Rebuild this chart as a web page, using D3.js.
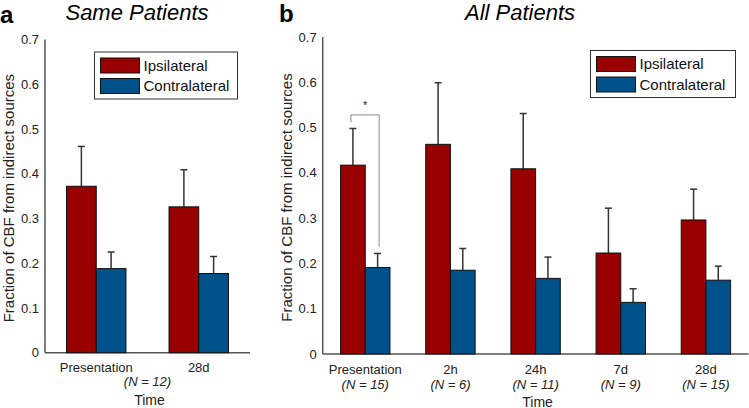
<!DOCTYPE html>
<html><head><meta charset="utf-8">
<script src="https://cdn.jsdelivr.net/npm/d3@7"></script>
<style>
body{margin:0;background:#fff;}
text{font-family:"Liberation Sans",Arial,Helvetica,sans-serif;}
</style>
</head><body>
<svg id="c" width="749" height="408"></svg>
<script>
// ---- data ----
const series = ["Ipsilateral", "Contralateral"];
const colors = ["#990000", "#00508A"];
const yTicks = [0, 0.1, 0.2, 0.3, 0.4, 0.5, 0.6, 0.7];

const catsA = ["Presentation", "28d"];
const ipsiA = [0.372, 0.326];
const ipsiErrA = [0.089, 0.083];
const contraA = [0.188, 0.177];
const contraErrA = [0.037, 0.038];
const nLabelA = "(N = 12)";

const catsB = ["Presentation", "2h", "24h", "7d", "28d"];
const nB = ["(N = 15)", "(N = 6)", "(N = 11)", "(N = 9)", "(N = 15)"];
const ipsiB = [0.417, 0.463, 0.409, 0.223, 0.296];
const ipsiErrB = [0.081, 0.136, 0.122, 0.099, 0.068];
const contraB = [0.191, 0.185, 0.167, 0.114, 0.163];
const contraErrB = [0.031, 0.048, 0.047, 0.030, 0.031];

const svg = d3.select("#c");
const axisColor = "#555";

function panel(o) {
  const g = svg.append("g");
  const y = d3.scaleLinear().domain([0, 0.7]).range([o.y0, o.y1]);
  const x = d3.scaleBand().domain(o.cats).range([o.x0, o.x1]).padding(0);
  const bw = x.bandwidth() * 0.29;
  const xs = d3.scaleBand().domain(series).range([-bw, bw]).padding(0);
  const vals = [o.ipsi, o.contra], errs = [o.ipsiErr, o.contraErr];

  // axes lines
  g.append("line").attr("x1", o.x0).attr("x2", o.x0).attr("y1", y(0)).attr("y2", y(0.7))
    .attr("stroke", axisColor).attr("stroke-width", 1.5);
  g.append("line").attr("x1", o.x0).attr("x2", o.x1).attr("y1", y(0)).attr("y2", y(0))
    .attr("stroke", axisColor).attr("stroke-width", 1.5);
  // y tick labels
  g.selectAll(".yt").data(yTicks).enter().append("text")
    .attr("x", o.x0 - 6).attr("y", d => y(d)).attr("dy", "0.35em")
    .attr("text-anchor", "end").attr("font-size", 13).attr("fill", "#222")
    .text(d => d === 0 ? "0" : d3.format(".1f")(d));

  // bars + error bars
  series.forEach((s, si) => {
    o.cats.forEach((c, ci) => {
      const cx = x(c) + x.bandwidth() / 2 + xs(s);
      const v = vals[si][ci], e = errs[si][ci];
      const mid = cx + xs.bandwidth() / 2;
      g.append("line").attr("x1", mid).attr("x2", mid).attr("y1", y(v)).attr("y2", y(v + e))
        .attr("stroke", "#333").attr("stroke-width", 1.5);
      g.append("line").attr("x1", mid - 3.5).attr("x2", mid + 3.5).attr("y1", y(v + e)).attr("y2", y(v + e))
        .attr("stroke", "#333").attr("stroke-width", 1.5);
      g.append("rect").attr("x", cx).attr("y", y(v)).attr("width", xs.bandwidth())
        .attr("height", y(0) - y(v)).attr("fill", colors[si])
        .attr("stroke", "#111").attr("stroke-width", 1);
    });
  });
  // x tick labels
  o.cats.forEach((c, ci) => {
    g.append("text").attr("x", x(c) + x.bandwidth() / 2).attr("y", o.labY)
      .attr("text-anchor", "middle").attr("font-size", 13).attr("fill", "#222").text(c);
    if (o.nLabels) {
      g.append("text").attr("x", x(c) + x.bandwidth() / 2).attr("y", o.nY)
        .attr("text-anchor", "middle").attr("font-size", 13).attr("font-style", "italic")
        .attr("fill", "#222").text(o.nLabels[ci]);
    }
  });
  if (o.nSingle) {
    g.append("text").attr("x", (o.x0 + o.x1) / 2).attr("y", o.nY)
      .attr("text-anchor", "middle").attr("font-size", 13).attr("font-style", "italic")
      .attr("fill", "#222").text(o.nSingle);
  }
  g.append("text").attr("x", (o.x0 + o.x1) / 2 + 2).attr("y", o.timeY)
    .attr("text-anchor", "middle").attr("font-size", 14).attr("fill", "#222").text("Time");
  // y label
  g.append("text").attr("transform", `translate(${o.ylabX},${(y(0) + y(0.7)) / 2 + 2}) rotate(-90)`)
    .attr("text-anchor", "middle").attr("font-size", 15).attr("fill", "#222")
    .text("Fraction of CBF from indirect sources");
  // titles
  g.append("text").attr("x", o.letterX).attr("y", o.letterY).attr("font-size", 24)
    .attr("font-weight", "bold").attr("fill", "#000").text(o.letter);
  g.append("text").attr("x", o.titleX).attr("y", 19.5).attr("text-anchor", "middle")
    .attr("font-size", 22).attr("font-style", "italic").attr("fill", "#000").text(o.title);
  // legend
  const L = g.append("g").attr("transform", `translate(${o.legX},${o.legY})`);
  L.append("rect").attr("x", 0).attr("y", 0).attr("width", o.legW).attr("height", 47)
    .attr("fill", "#fff").attr("stroke", "#333").attr("stroke-width", 1);
  series.forEach((s, si) => {
    L.append("rect").attr("x", 6).attr("y", 6 + si * 20.5).attr("width", 39).attr("height", 15)
      .attr("fill", colors[si]).attr("stroke", "#111").attr("stroke-width", 1);
    L.append("text").attr("x", 49).attr("y", 13.5 + si * 20.5).attr("dy", "0.35em")
      .attr("font-size", 15).attr("fill", "#111").text(s);
  });
  return {x, y, xs};
}

panel({cats: catsA, ipsi: ipsiA, ipsiErr: ipsiErrA, contra: contraA, contraErr: contraErrA,
  x0: 45, x1: 250, y0: 352.7, y1: 39.5, labY: 371.5, nY: 386, nSingle: nLabelA, timeY: 405,
  ylabX: 14, letter: "a", letterX: 0, letterY: 22.5, title: "Same Patients", titleX: 137,
  legX: 94.5, legY: 52, legW: 143});

const pb = panel({cats: catsB, ipsi: ipsiB, ipsiErr: ipsiErrB, contra: contraB, contraErr: contraErrB,
  x0: 322.7, x1: 748.5, y0: 354, y1: 37, labY: 374, nY: 388.5, nLabels: nB, timeY: 406.5,
  ylabX: 292, letter: "b", letterX: 279, letterY: 22, title: "All Patients", titleX: 520,
  legX: 590.5, legY: 50.5, legW: 145});

// significance bracket (Presentation: ipsi vs contra)
const sigTop = 0.528, sigL = 0.512, sigR = 0.237;
const c0 = pb.x(catsB[0]) + pb.x.bandwidth() / 2;
const lx = c0 + pb.xs("Ipsilateral") + pb.xs.bandwidth() / 2 - 2;
const rx = c0 + pb.xs("Contralateral") + pb.xs.bandwidth() / 2 + 1.5;
svg.append("path")
  .attr("d", `M${lx},${pb.y(sigL)}V${pb.y(sigTop)}H${rx}V${pb.y(sigR)}`)
  .attr("fill", "none").attr("stroke", "#888").attr("stroke-width", 1);
svg.append("text").attr("x", (lx + rx) / 2).attr("y", pb.y(sigTop) - 6)
  .attr("text-anchor", "middle").attr("font-size", 11).attr("fill", "#222").text("*");
</script>
</body></html>
